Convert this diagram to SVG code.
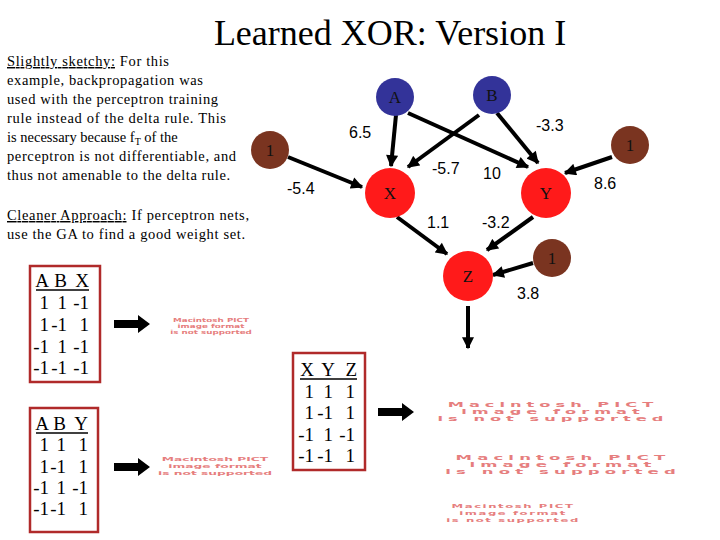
<svg xmlns="http://www.w3.org/2000/svg" width="720" height="540" viewBox="0 0 720 540">
<style>
.serif{font-family:"Liberation Serif","Times New Roman",serif;fill:#000}
.body{font-size:14.5px}
.w{font-family:"Liberation Sans",Arial,sans-serif;font-size:16px;fill:#000}
.nl{font-family:"Liberation Serif","Times New Roman",serif;font-size:17px;fill:#111;text-anchor:middle}
.tb{font-family:"Liberation Serif","Times New Roman",serif;font-size:19px;fill:#000;text-anchor:end}
.ul{stroke:#000;stroke-width:1.5}
.box{fill:#fff;stroke:#b02a2a;stroke-width:2.5}
.in{fill:#333399}
.bias{fill:#7a3420}
.hid{fill:#ff1a1a}
.edge{stroke:#000;stroke-width:4;fill:none;marker-end:url(#ah)}
.pict{font-family:"DejaVu Sans",Verdana,sans-serif;font-weight:bold;fill:#e67e7e;text-anchor:middle}
</style>
<defs>
<marker id="ah" viewBox="0 0 10 10" refX="9" refY="5" markerUnits="userSpaceOnUse" markerWidth="13" markerHeight="12" orient="auto">
<path d="M0,0 L10,5 L0,10 z" fill="#000"/>
</marker>
<path id="fat" d="M0,-4 L24,-4 L24,-9 L36,0 L24,9 L24,4 L0,4 z" fill="#000"/>
</defs>
<rect width="720" height="540" fill="#fff"/>
<text class="serif" x="390" y="45" font-size="36" text-anchor="middle">Learned XOR: Version I</text>
<g id="notes" class="serif body">
<text x="7" y="66" textLength="162" lengthAdjust="spacing"><tspan text-decoration="underline">Slightly sketchy:</tspan> For this</text>
<text x="7" y="85" textLength="196" lengthAdjust="spacing">example, backpropagation was</text>
<text x="7" y="104" textLength="211" lengthAdjust="spacing">used with the perceptron training</text>
<text x="7" y="123" textLength="219" lengthAdjust="spacing">rule instead of the delta rule.  This</text>
<text x="7" y="142">is necessary because f<tspan font-size="10" dy="3">T</tspan><tspan dy="-3"> of the</tspan></text>
<text x="7" y="161" textLength="229" lengthAdjust="spacing">perceptron is not differentiable, and</text>
<text x="7" y="180" textLength="223" lengthAdjust="spacing">thus not amenable to the delta rule.</text>
<text x="7" y="220" textLength="242" lengthAdjust="spacing"><tspan text-decoration="underline">Cleaner Approach:</tspan> If perceptron nets,</text>
<text x="7" y="239" textLength="238" lengthAdjust="spacing">use the GA to find a good weight set.</text>
</g>
<g id="connectors">
<line class="edge" x1="396" y1="115" x2="391" y2="166"/>
<line class="edge" x1="408" y1="113" x2="528" y2="167"/>
<line class="edge" x1="479" y1="115" x2="408" y2="167"/>
<line class="edge" x1="497" y1="113" x2="538" y2="163"/>
<line class="edge" x1="288" y1="157" x2="362" y2="187"/>
<line class="edge" x1="612" y1="157" x2="565" y2="173"/>
<line class="edge" x1="397" y1="217" x2="447" y2="254"/>
<line class="edge" x1="533" y1="217" x2="487" y2="250"/>
<line class="edge" x1="533" y1="263" x2="493" y2="275"/>
<line class="edge" x1="468" y1="306" x2="468" y2="348"/>
<use href="#fat" x="114" y="324"/>
<use href="#fat" x="114" y="467"/>
<use href="#fat" x="378" y="412"/>
</g>
<g id="weights" class="w">
<text x="349" y="138">6.5</text>
<text x="536" y="131">-3.3</text>
<text x="432" y="174">-5.7</text>
<text x="483" y="179">10</text>
<text x="287" y="194">-5.4</text>
<text x="594" y="189">8.6</text>
<text x="427" y="228">1.1</text>
<text x="482" y="228">-3.2</text>
<text x="517" y="299">3.8</text>
</g>
<g id="nodeA"><circle class="in" cx="395" cy="97" r="19"/><text class="nl" x="395" y="103">A</text></g>
<g id="nodeB"><circle class="in" cx="492" cy="95" r="19"/><text class="nl" x="492" y="101">B</text></g>
<g id="bias1"><circle class="bias" cx="270" cy="150" r="19"/><text class="nl" x="270" y="156">1</text></g>
<g id="bias2"><circle class="bias" cx="630" cy="145" r="19"/><text class="nl" x="630" y="151">1</text></g>
<g id="bias3"><circle class="bias" cx="552" cy="258" r="19"/><text class="nl" x="552" y="264">1</text></g>
<g id="nodeX"><circle class="hid" cx="390" cy="193" r="25"/><text class="nl" x="390" y="199">X</text></g>
<g id="nodeY"><circle class="hid" cx="546" cy="193" r="25"/><text class="nl" x="546" y="199">Y</text></g>
<g id="nodeZ"><circle class="hid" cx="468" cy="276" r="25"/><text class="nl" x="468" y="282">Z</text></g>
<g id="tableX">
<rect class="box" x="30" y="266" width="70" height="116"/>
<text class="tb" x="49" y="287">A</text><text class="tb" x="67" y="287">B</text><text class="tb" x="89" y="287">X</text>
<line class="ul" x1="36" y1="290" x2="89" y2="290"/>
<text class="tb" x="49" y="309">1</text><text class="tb" x="67" y="309">1</text><text class="tb" x="89" y="309">-1</text>
<text class="tb" x="49" y="331">1</text><text class="tb" x="67" y="331">-1</text><text class="tb" x="89" y="331">1</text>
<text class="tb" x="49" y="353">-1</text><text class="tb" x="67" y="353">1</text><text class="tb" x="89" y="353">-1</text>
<text class="tb" x="49" y="374">-1</text><text class="tb" x="67" y="374">-1</text><text class="tb" x="89" y="374">-1</text>
</g>
<g id="tableY">
<rect class="box" x="30" y="408" width="68" height="124"/>
<text class="tb" x="49" y="430">A</text><text class="tb" x="66" y="430">B</text><text class="tb" x="88" y="430">Y</text>
<line class="ul" x1="36" y1="433" x2="88" y2="433"/>
<text class="tb" x="49" y="451">1</text><text class="tb" x="66" y="451">1</text><text class="tb" x="88" y="451">1</text>
<text class="tb" x="49" y="473">1</text><text class="tb" x="66" y="473">-1</text><text class="tb" x="88" y="473">1</text>
<text class="tb" x="49" y="494">-1</text><text class="tb" x="66" y="494">1</text><text class="tb" x="88" y="494">-1</text>
<text class="tb" x="49" y="515">-1</text><text class="tb" x="66" y="515">-1</text><text class="tb" x="88" y="515">1</text>
</g>
<g id="tableZ">
<rect class="box" x="293" y="353" width="72" height="117"/>
<text class="tb" x="314" y="376">X</text><text class="tb" x="335" y="376">Y</text><text class="tb" x="357" y="376">Z</text>
<line class="ul" x1="300" y1="379" x2="357" y2="379"/>
<text class="tb" x="314" y="398">1</text><text class="tb" x="333" y="398">1</text><text class="tb" x="355" y="398">1</text>
<text class="tb" x="314" y="419">1</text><text class="tb" x="333" y="419">-1</text><text class="tb" x="355" y="419">1</text>
<text class="tb" x="314" y="441">-1</text><text class="tb" x="333" y="441">1</text><text class="tb" x="355" y="441">-1</text>
<text class="tb" x="314" y="462">-1</text><text class="tb" x="333" y="462">-1</text><text class="tb" x="355" y="462">1</text>
</g>
<g id="pict1" class="pict" font-size="5.5" transform="translate(211,0) scale(1.6,1)">
<text x="0" y="322">Macintosh PICT</text>
<text x="0" y="328">image format</text>
<text x="0" y="334">is not supported</text>
</g>
<g id="pict2" class="pict" font-size="6" transform="translate(215,0) scale(2.05,1)">
<text x="0" y="461">Macintosh PICT</text>
<text x="0" y="468">image format</text>
<text x="0" y="475">is not supported</text>
</g>
<g id="pict3" class="pict" font-size="6.5" letter-spacing="2" transform="translate(553,0) scale(2.5,1)">
<text x="0" y="407">Macintosh PICT</text>
<text x="0" y="414">image format</text>
<text x="0" y="421">is not supported</text>
</g>
<g id="pict4" class="pict" font-size="6.5" letter-spacing="2" transform="translate(563,0) scale(2.55,1)">
<text x="0" y="460">Macintosh PICT</text>
<text x="0" y="467">image format</text>
<text x="0" y="474">is not supported</text>
</g>
<g id="pict5" class="pict" font-size="6" letter-spacing="0.8" transform="translate(513,0) scale(1.95,1)">
<text x="0" y="508">Macintosh PICT</text>
<text x="0" y="515">image format</text>
<text x="0" y="522">is not supported</text>
</g>
</svg>
